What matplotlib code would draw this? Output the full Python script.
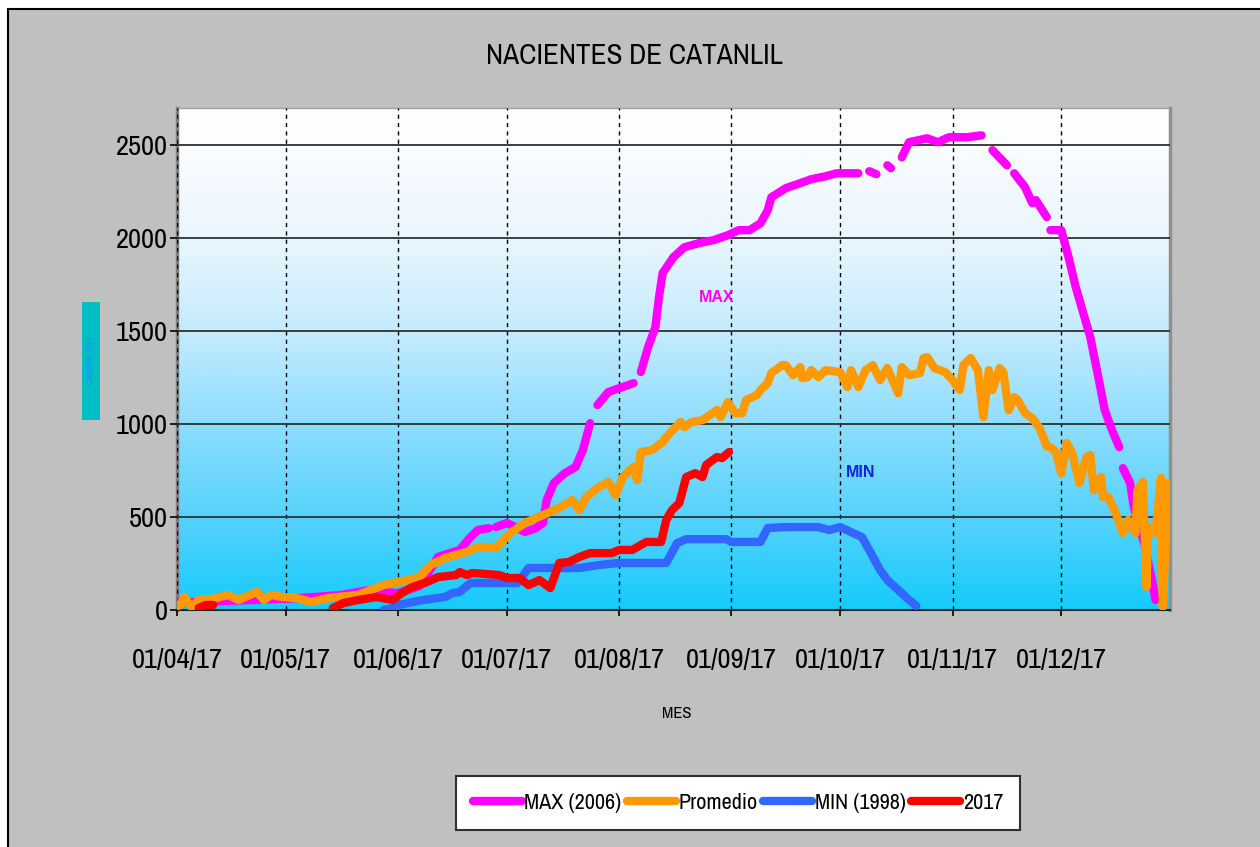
import numpy as np
import pandas as pd
import matplotlib
matplotlib.use("Agg")
import matplotlib.pyplot as plt
import matplotlib.dates as mdates
from matplotlib.colors import LinearSegmentedColormap
from matplotlib.patches import Rectangle
import logging
logging.getLogger('matplotlib.font_manager').setLevel(logging.ERROR)

plt.rcParams['font.family'] = ['Liberation Sans Narrow', 'Archivo Narrow', 'PT Sans Narrow',
                               'IBM Plex Sans Condensed', 'Liberation Sans', 'DejaVu Sans']

nan = np.nan
start = pd.Timestamp('2017-04-01')

# ---- data (x = days since 1 April 2017) ----
max_days = [0, 15, 30, 38, 45, 53, 61, 67, 70, 72, 78, 81, 83, 86, 87, 88, 91, 94, 96, 99, 101, 102, 104,
            107, 110, 112, 114, 115, 116, 119, 122, 126, 127, 128, 130, 132, 133, 134, 137, 140, 144,
            148, 152, 155, 158, 161, 163, 164, 168, 172, 175, 179, 182, 188, 189, 191, 193, 194, 196,
            197, 198, 200, 202, 207, 210, 213, 218, 222, 223, 225, 229, 230, 231, 234, 236, 237, 240,
            240.6, 241, 244, 246, 248, 252, 254, 256, 258, 260, 260.6, 261, 263, 264, 267, 269, 270]
max_vals = [40, 50, 60, 70, 80, 107, 90, 130, 220, 285, 323, 392, 430, 440, nan, 446, 468, 440, 420, 440,
            468, 591, 683, 736, 769, 860, 1005, nan, 1102, 1172, 1193, 1220, nan, 1280, 1414, 1521, 1683,
            1812, 1898, 1951, 1973, 1989, 2016, 2043, 2043, 2080, 2150, 2220, 2269, 2296, 2317, 2333,
            2349, 2349, nan, 2360, 2344, nan, 2392, 2376, nan, 2435, 2516, 2537, 2516, 2543, 2543, 2553,
            nan, 2473, 2392, nan, 2349, 2274, 2188, 2204, 2113, nan, 2043, 2043, 1898, 1736, 1468, 1274,
            1075, 968, 876, nan, 763, 683, 554, 350, 161, 54]

prom_days = [0, 1, 2, 4, 6, 10, 14, 17, 22, 24, 26, 29, 33, 37, 42, 50, 57, 61, 67, 70, 74, 80, 83, 86,
             88, 92, 96, 101, 106, 109, 111, 113, 116, 119, 121, 123, 126, 127, 128, 131, 134, 136, 139,
             140, 142, 145, 149, 150, 152, 154, 156, 157, 160, 161, 163, 164, 167, 168, 170, 172, 172.5,
             174, 175, 177, 179, 183, 185, 186, 188, 190, 192, 194, 196, 199, 200, 202, 205, 206, 207,
             209, 212, 214, 216, 217, 219, 221, 222.5, 224, 225, 227, 228, 229.5, 231, 232, 234, 236,
             238, 240, 241, 242.5, 244, 245.5, 247, 249, 251, 252, 253, 255, 255.5, 257, 259, 261,
             262.5, 264.5, 265, 266.5, 267.5, 268, 270, 271.5, 272, 273.5]
prom_vals = [20, 27, 70, 16, 54, 60, 81, 54, 97, 54, 81, 70, 65, 43, 65, 81, 134, 150, 177, 242, 280, 312,
             339, 339, 333, 414, 468, 511, 554, 591, 538, 608, 656, 688, 618, 715, 769, 699, 849, 860,
             903, 952, 1011, 984, 1011, 1021, 1075, 1038, 1118, 1059, 1059, 1129, 1156, 1183, 1220, 1274,
             1317, 1317, 1263, 1306, 1247, 1252, 1290, 1252, 1290, 1279, 1199, 1290, 1199, 1290, 1317,
             1237, 1301, 1166, 1306, 1263, 1274, 1355, 1360, 1301, 1279, 1237, 1183, 1317, 1355, 1290,
             1038, 1290, 1183, 1301, 1279, 1075, 1145, 1129, 1059, 1032, 980, 880, 876, 850, 736, 898,
             844, 683, 823, 833, 645, 715, 608, 608, 522, 414, 484, 414, 645, 688, 124, 446, 414, 710,
             16, 683]

min_days = [57, 60.6, 61, 68, 74, 76, 78, 81, 91, 94, 97, 111, 116.5, 122, 135, 138, 140.5, 151.5, 153,
            161, 163, 168, 177, 180, 183, 186, 189, 191, 194, 196, 199, 202, 204]
min_vals = [0, 16, 27, 54, 70, 91, 97, 145, 145, 145, 226, 226, 242, 253, 253, 360, 381, 381, 366, 366,
            441, 446, 446, 430, 446, 419, 392, 323, 215, 161, 108, 54, 22]

y17_days = [6, 8, 10, 11, 43, 46, 50, 55, 59.5, 62, 65, 69, 72, 77, 78, 80, 81.5, 89, 91, 94.5, 97, 100,
            103, 105.5, 108, 111, 114, 120, 122, 125.6, 129.5, 133.6, 135, 136.6, 138.6, 140.5, 143, 145,
            146, 149, 150.4, 152.3]
y17_vals = [11, 27, 27, nan, 11, 38, 54, 70, 54, 91, 124, 150, 177, 188, 204, 188, 199, 188, 172, 172, 134,
            161, 118, 253, 258, 285, 306, 306, 323, 323, 366, 366, 484, 538, 575, 715, 736, 715, 780, 823,
            817, 849]

series_names = ['MAX (2006)', 'Promedio', 'MIN (1998)', '2017']
series_colors = ['#FF00FF', '#FF9900', '#3366FF', '#FF0000']


def to_dates(days):
    return start + pd.to_timedelta(np.asarray(days, dtype=float), unit='D')


W, H = 1260, 847
fig = plt.figure(figsize=(W / 100, H / 100), dpi=100, facecolor='white')
fig.patches.append(Rectangle((8 / W, -0.05), 1.1, (1 - 9 / H) + 0.05, transform=fig.transFigure,
                             facecolor='#C0C0C0', edgecolor='black', lw=1.5, zorder=-5))

ax = fig.add_axes([177 / W, 1 - 610 / H, (1170 - 177) / W, (610 - 108) / H])

# gradient background
cmap = LinearSegmentedColormap.from_list('bg', [(0.0, '#14CBFB'), (0.18, '#55D2FC'), (0.37, '#8EDDFD'),
                                                 (0.55, '#C3EBFD'), (0.74, '#E9F6FE'), (0.93, '#FBFDFF'),
                                                 (1.0, '#FFFFFF')])
grad = np.linspace(0, 1, 256).reshape(-1, 1)
ax.imshow(grad, cmap=cmap, origin='lower', extent=[0, 1, 0, 1], transform=ax.transAxes,
          aspect='auto', zorder=0)

for days, vals, name, col in zip([max_days, prom_days, min_days, y17_days],
                                 [max_vals, prom_vals, min_vals, y17_vals],
                                 series_names, series_colors):
    ax.plot(to_dates(days), vals, color=col, lw=6, solid_capstyle='round',
            solid_joinstyle='round', label=name, zorder=3)

ax.set_xlim(pd.Timestamp('2017-04-01'), pd.Timestamp('2017-12-31'))
ax.set_ylim(0, 2700)
ax.set_yticks([0, 500, 1000, 1500, 2000, 2500])
ax.xaxis.set_major_locator(mdates.MonthLocator())
ax.xaxis.set_major_formatter(mdates.DateFormatter('%d/%m/%y'))

ax.grid(axis='y', color='#303030', lw=1.3, zorder=1)
ax.grid(axis='x', color='black', lw=1.0, linestyle=(0, (3, 3)), zorder=1)
ax.set_axisbelow(False)
for gl in ax.get_xgridlines() + ax.get_ygridlines():
    gl.set_zorder(1)

ax.tick_params(axis='x', labelsize=20.5, length=4, width=1.2, pad=23, colors='black')
ax.tick_params(axis='y', labelsize=20.5, length=5, width=1.2, pad=1.5, colors='black')

ax.spines['left'].set_color('#808080')
ax.spines['left'].set_linewidth(2.5)
ax.spines['right'].set_color('#909090')
ax.spines['right'].set_linewidth(2.5)
ax.spines['bottom'].set_color('#202020')
ax.spines['bottom'].set_linewidth(1.5)
ax.spines['top'].set_color('#A0A0A0')
ax.spines['top'].set_linewidth(1.0)

# annotations
ax.text(start + pd.Timedelta(days=148.8), 1680, 'MAX', color='#FF00FF', fontsize=11.5,
        fontweight='bold', family=['Liberation Sans', 'DejaVu Sans'], ha='center', va='center',
        zorder=4)
ax.text(start + pd.Timedelta(days=188.7), 742, 'MIN', color='#1020E0', fontsize=11.5,
        fontweight='bold', family=['Liberation Sans', 'DejaVu Sans'], ha='center', va='center',
        zorder=4)

# title and axis labels
fig.text(634 / W, 1 - 56 / H, 'NACIENTES DE CATANLIL', fontsize=21, ha='center', va='center',
         color='black')
fig.text(677 / W, 1 - 714 / H, 'MES', fontsize=12, ha='center', va='center', color='black')

fig.patches.append(Rectangle((82 / W, 1 - 420 / H), 18 / W, 118 / H, transform=fig.transFigure,
                             facecolor='#00BFC4', edgecolor='none', zorder=2))
fig.text(91 / W, 1 - 361 / H, 'CAUDAL (l/s)', fontsize=7, rotation=90, ha='center', va='center',
         color='#1E90FF', zorder=3)

leg = fig.legend(loc='center', bbox_to_anchor=(738 / W, 1 - 803 / H), ncol=4, fontsize=16,
                 frameon=True, fancybox=False, edgecolor='#303030', facecolor='white', framealpha=1,
                 handlelength=2.2, handletextpad=0.12, columnspacing=0.25, borderpad=0.75,
                 borderaxespad=0)
leg.get_frame().set_linewidth(1.5)
for line in leg.get_lines():
    line.set_linewidth(6)
    line.set_solid_capstyle('round')

fig.savefig('out.png', dpi=100, facecolor=fig.get_facecolor())
